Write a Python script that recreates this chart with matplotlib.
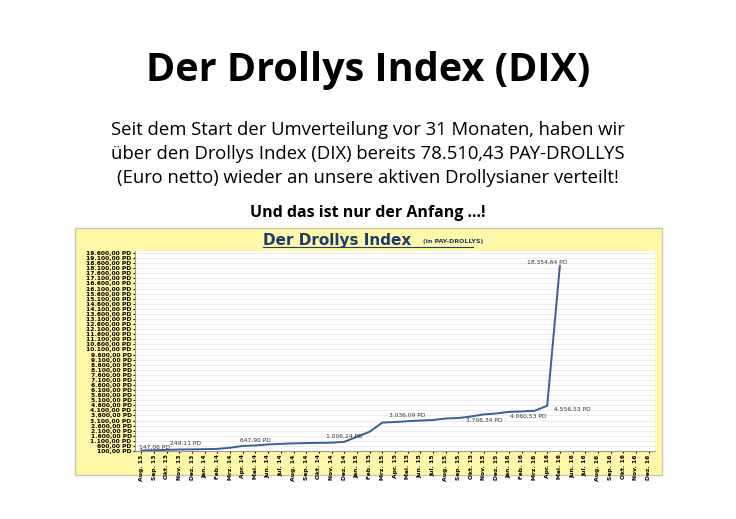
import matplotlib
matplotlib.use("Agg")
import matplotlib.pyplot as plt
from matplotlib.patches import Rectangle

months = ["Aug. 13","Sep. 13","Okt. 13","Nov. 13","Dez. 13","Jan. 14","Feb. 14","Mrz. 14","Apr. 14","Mai. 14",
          "Jun. 14","Jul. 14","Aug. 14","Sep. 14","Okt. 14","Nov. 14","Dez. 14","Jan. 15","Feb. 15","Mrz. 15",
          "Apr. 15","Mai. 15","Jun. 15","Jul. 15","Aug. 15","Sep. 15","Okt. 15","Nov. 15","Dez. 15","Jan. 16",
          "Feb. 16","Mrz. 16","Apr. 16","Mai. 16","Jun. 16","Jul. 16","Aug. 16","Sep. 16","Okt. 16","Nov. 16","Dez. 16"]
values = [147.06,180,210,249.11,260,280,310,420,600,647.90,750,800,850,880,900,920,1006.24,1500,2000,2900,
          2950,3036.09,3100,3150,3300,3350,3500,3706.34,3800,3950,4000,4060.53,4556.53,18354.64]
labels = {0:"147,06 PD",3:"249,11 PD",9:"647,90 PD",16:"1.006,24 PD",21:"3.036,09 PD",27:"3.706,34 PD",
          31:"4.060,53 PD",32:"4.556,53 PD",33:"18.354,64 PD"}
label_off = {0:(1,350),3:(0.5,650),9:(0,500),16:(0,550),21:(0,550),27:(0,-550),31:(-0.5,-500),32:(2,-300),33:(-1,300)}
yticks = list(range(100, 19601, 500))

fig = plt.figure(figsize=(7.36,5.19), dpi=100)
W,H = 736,519
fig.text(0.5, 1-70/H, "Der Drollys Index (DIX)", ha="center", va="center", fontsize=28.5, fontweight="bold", family="Open Sans")
for i,t in enumerate(["Seit dem Start der Umverteilung vor 31 Monaten, haben wir",
                      "über den Drollys Index (DIX) bereits 78.510,43 PAY-DROLLYS",
                      "(Euro netto) wieder an unsere aktiven Drollysianer verteilt!"]):
    fig.text(0.5, 1-(130+i*24)/H, t, ha="center", va="center", fontsize=13.3, family="Open Sans")
fig.text(0.5, 1-213/H, "Und das ist nur der Anfang …!", ha="center", va="center", fontsize=11.5, fontweight="bold", family="Open Sans")

fig.patches.append(Rectangle((75/W, 1-475/H), 587/W, 247/H, transform=fig.transFigure,
                             facecolor="#FFF8A8", edgecolor="#C8C8B0", lw=1, zorder=-5))
fig.text(263/W, 1-240/H, "Der Drollys Index", ha="left", va="center", fontsize=11, fontweight="bold",
         color="#1F3A6E", family="DejaVu Sans")
fig.text(423/W, 1-241/H, "(in PAY-DROLLYS)", ha="left", va="center", fontsize=4.5, fontweight="bold",
         color="#1F3A6E")
fig.lines.append(plt.Line2D([263/W, 473/W], [1-247/H]*2, transform=fig.transFigure, color="#1F3A6E", lw=0.8))

ax = fig.add_axes([135/W, 1-451/H, 520/W, 200/H])
ax.set_facecolor("white")
ax.plot(range(len(values)), values, color="#3A5E96", lw=1.4)
for i,t in labels.items():
    dx,dy = label_off[i]
    ax.text(i+dx, values[i]+dy, t, fontsize=4.3, ha="center", va="center", color="#333333")
ax.set_xlim(-0.5, len(months)-0.5)
ax.set_ylim(100, 19800)
ax.set_yticks(yticks)
ax.set_yticklabels([f"{v:,}".replace(",", ".")+",00 PD" for v in yticks], fontsize=4.3, fontweight="bold")
ax.set_xticks(range(len(months)))
ax.set_xticklabels(months, rotation=90, fontsize=4.3, fontweight="bold")
ax.grid(axis="y", color="#E6E6E6", lw=0.5)
ax.set_axisbelow(True)
for s in ["top","right"]:
    ax.spines[s].set_visible(False)
ax.spines["left"].set_color("#999999")
ax.spines["bottom"].set_color("#999999")
ax.tick_params(length=1.5, pad=1)
fig.savefig("out.png", dpi=100)
